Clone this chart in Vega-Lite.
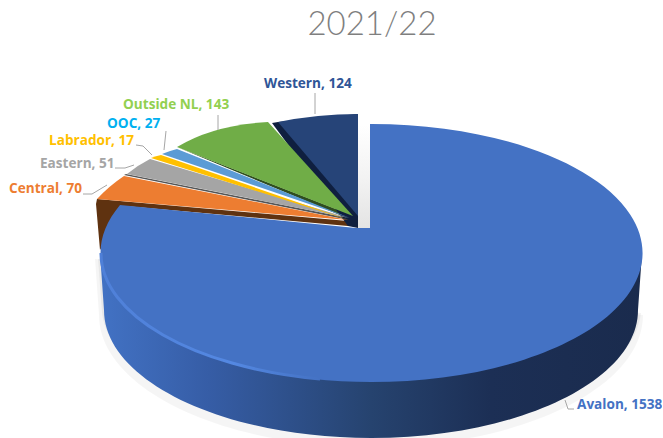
{
"$schema":"https://vega.github.io/schema/vega-lite/v6.json",
"width":662,"height":438,"padding":0,"autosize":"none","background":"white",
"config":{"view":{"stroke":null}},
"data":{"values":[
{"region":"Avalon","value":1538,"label":"Avalon, 1538"},
{"region":"Central","value":70,"label":"Central, 70"},
{"region":"Eastern","value":51,"label":"Eastern, 51"},
{"region":"Labrador","value":17,"label":"Labrador, 17"},
{"region":"OOC","value":27,"label":"OOC, 27"},
{"region":"Outside NL","value":143,"label":"Outside NL, 143"},
{"region":"Western","value":124,"label":"Western, 124"}
]},
"resolve":{"scale":{"shape":"independent","color":"independent"}},
"layer":[
{"data":{"values":[{"heading":"2021/22"}]},
 "mark":{"type":"text","align":"center","baseline":"alphabetic","font":"Lato","fontWeight":300,"fontSize":33,"color":"#7f7f7f"},
 "encoding":{"text":{"field":"heading","type":"nominal"},"x":{"value":372},"y":{"value":35}}},
{"transform":[{"filter":"datum.region==='Avalon'"}],
 "mark":{"type":"point","filled":true,"size":4,"opacity":0.04,"fill":"#000","shape":"M-236,40 L-232,96 A272,132 0 0 0 312,96 Z"},"encoding":{}},
{"transform":[{"filter":"datum.region==='Avalon'"}],
 "mark":{"type":"point","filled":true,"size":4,"opacity":0.05,"fill":"#000","shape":"M-233,40 L-229,94 A270,130 0 0 0 310,94 Z"},"encoding":{}},
{"transform":[{"filter":"datum.region==='Avalon'"}],
 "mark":{"type":"point","filled":true,"size":4,"opacity":1,"shape":"M27,-94 L39,-94 L39,9 L27,9 Z",
  "fill":{"gradient":"linear","x1":0,"y1":0,"x2":0,"y2":1,"stops":[{"offset":0,"color":"#ffffff"},{"offset":0.5,"color":"#f3f3f3"},{"offset":1,"color":"#e4e4e4"}]}},"encoding":{}},
{"transform":[{"filter":{"field":"region","oneOf":["Central","Eastern","Outside NL","Western"]}}],
 "mark":{"type":"point","filled":true,"size":4,"opacity":1},
 "encoding":{
  "shape":{"field":"region","type":"nominal","legend":null,"scale":{"domain":["Central","Eastern","Outside NL","Western"],"range":[
   "M-234,-20 L-235,-15 L-231,31 L-206,-13 L17,7 L17,2 Z",
   "M-205,-45 L18,-1 L18,1 L-207,-44 Z",
   "M-154,-72 L23,-3 L23,2 Z",
   "M-59,-96 L17,7 L27,9 L27,-105 L-53,-97 Z"]}},
  "color":{"field":"region","type":"nominal","legend":null,"scale":{"domain":["Central","Eastern","Outside NL","Western"],"range":["#5f3210","#555555","#2f4d20","#0f1f3f"]}}}},
{"transform":[{"filter":"datum.region!=='Avalon'"}],
 "mark":{"type":"point","filled":true,"size":4,"opacity":1},
 "encoding":{
  "shape":{"field":"region","type":"nominal","legend":null,"scale":{"domain":["Central","Eastern","Labrador","OOC","Outside NL","Western"],"range":[
   "M-207,-43 Q-222,-33 -234,-20 L17,1 Z",
   "M-181,-60 Q-193,-54 -204,-45 L18,-1 Z",
   "M-170,-64 Q-175,-63 -180,-61 L18,1 Z",
   "M-154,-70 Q-162,-68 -169,-65 L19,-1 Z",
   "M-63,-97 Q-118,-94 -154,-72 L22,-3 Z",
   "M-53,-97 Q-13,-105 27,-105 L27,-3 Z"]}},
  "color":{"field":"region","type":"nominal","legend":null,"scale":{"domain":["Central","Eastern","Labrador","OOC","Outside NL","Western"],"range":["#ed7d31","#a5a5a5","#ffc000","#5b9bd5","#70ad47","#264478"]}}}},
{"transform":[{"filter":"datum.region==='Avalon'"}],
 "mark":{"type":"point","filled":true,"size":4,"opacity":1,"shape":"M311,34 L307,91 A267,128 0 0 1 -227,91 L-231,34 Z",
  "fill":{"gradient":"linear","x1":0,"y1":0,"x2":1,"y2":0,"stops":[{"offset":0,"color":"#4272c4"},{"offset":0.2,"color":"#365da6"},{"offset":0.5,"color":"#26436f"},{"offset":0.72,"color":"#1c2f55"},{"offset":1,"color":"#1a2b4d"}]}},"encoding":{}},
{"transform":[{"filter":"datum.region==='Avalon'"}],
 "mark":{"type":"point","filled":true,"size":4,"opacity":1,"fill":"#4472c4","shape":"M39,-95 A271,129 0 1 1 -211,-14 L25,9 L39,9 Z"},"encoding":{}},
{"transform":[{"filter":"datum.region==='Avalon'"}],
 "mark":{"type":"point","filled":false,"size":4,"opacity":1,"strokeWidth":3,"shape":"M-230,34 A270,128 0 0 0 -11,160",
  "stroke":{"gradient":"linear","x1":0,"y1":0,"x2":1,"y2":0,"stops":[{"offset":0,"color":"#4f80d8"},{"offset":0.6,"color":"#5488e2"},{"offset":1,"color":"#4472c4"}]}},"encoding":{}},
{"mark":{"type":"point","filled":false,"size":4,"opacity":1,"stroke":"#a6a6a6","strokeWidth":1},
 "encoding":{
  "shape":{"field":"region","type":"nominal","legend":null,"scale":{"domain":["Avalon","Central","Eastern","Labrador","OOC","Outside NL","Western"],"range":[
   "M234,181 L237,190 L243,190",
   "M-248,-25 L-239,-25 L-224,-34",
   "M-216,-51 L-206,-51 L-197,-54",
   "M-195,-74 L-188,-73 L-179,-64",
   "M-165,-88 L-167,-69",
   "M-113,-104 L-113,-89",
   "M-16,-126 L-16,-105"]}}}},
{"mark":{"type":"text","align":"left","baseline":"middle","font":"Open Sans","fontWeight":"bold","fontSize":13.6},
 "encoding":{
  "text":{"field":"label","type":"nominal"},
  "x":{"field":"value","type":"quantitative","axis":null,"scale":{"type":"linear","zero":false,"nice":false,"domain":[17,27,51,70,124,143,1538],"range":[49,107,40,9,264,123,577]}},
  "y":{"field":"value","type":"quantitative","axis":null,"scale":{"type":"linear","zero":false,"nice":false,"domain":[17,27,51,70,124,143,1538],"range":[141,124,164,189,84,105,405]}},
  "color":{"field":"region","type":"nominal","legend":null,"scale":{"domain":["Avalon","Central","Eastern","Labrador","OOC","Outside NL","Western"],"range":["#4472c4","#ed7d31","#a5a5a5","#ffc000","#00b0f0","#92d050","#2f5597"]}}}}
]}
